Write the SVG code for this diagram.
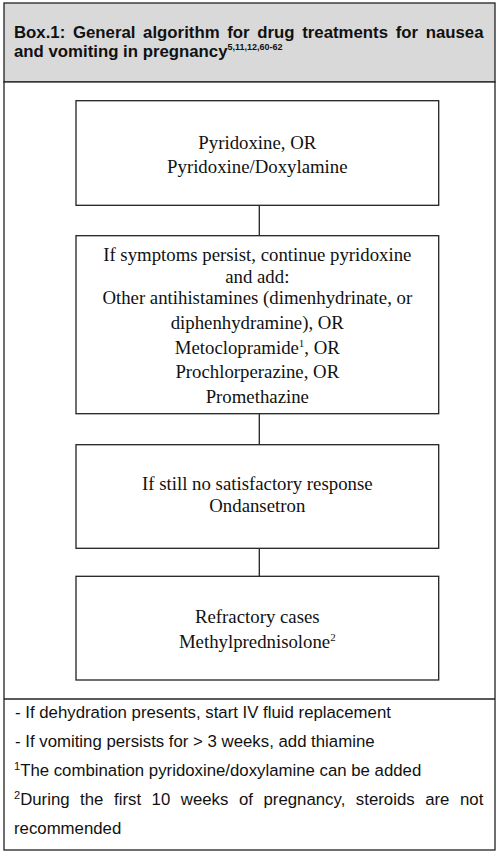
<svg xmlns="http://www.w3.org/2000/svg" width="500" height="857" viewBox="0 0 500 857">
<style>
.box{fill:#fff;stroke:#222;stroke-width:1.3}
.t{font-family:"Liberation Serif","Times New Roman",serif;font-size:18.8px;fill:#111;text-anchor:middle}
.h{font-family:"Liberation Sans",Arial,sans-serif;font-size:16.8px;font-weight:bold;fill:#111}
.f{font-family:"Liberation Sans",Arial,sans-serif;font-size:16.8px;fill:#111}
.c{stroke:#222;stroke-width:1.3;fill:none}
</style>
<rect x="0" y="0" width="500" height="857" fill="#fff"/>
<g id="frame">
<rect x="4" y="3" width="491" height="79" fill="#d9d9d9" stroke="#222" stroke-width="1.3"/>
<rect x="4" y="82" width="491" height="768" fill="#fff" stroke="#222" stroke-width="1.3"/>
<line x1="4" y1="699" x2="495" y2="699" stroke="#222" stroke-width="1.3"/>
</g>
<g id="title">
<text class="h" x="14" y="37.5" word-spacing="3">Box.1: General algorithm for drug treatments for nausea</text>
<text class="h" x="14" y="56.5">and vomiting in pregnancy<tspan font-size="9" dy="-6.5">5,11,12,60-62</tspan></text>
</g>
<g id="connectors">
<line class="c" x1="259.3" y1="205.3" x2="259.3" y2="235.7"/>
<line class="c" x1="259.3" y1="413.7" x2="259.3" y2="444.7"/>
<line class="c" x1="259.3" y1="548.3" x2="259.3" y2="576.3"/>
</g>
<g id="node1">
<rect class="box" x="76" y="100.7" width="362.7" height="104.6"/>
<text class="t" x="257.3" y="149">Pyridoxine, OR</text>
<text class="t" x="257.3" y="173">Pyridoxine/Doxylamine</text>
</g>
<g id="node2">
<rect class="box" x="76" y="235.7" width="362.7" height="178"/>
<text class="t" x="257.3" y="260.5">If symptoms persist, continue pyridoxine</text>
<text class="t" x="257.3" y="282.5">and add:</text>
<text class="t" x="257.3" y="304">Other antihistamines (dimenhydrinate, or</text>
<text class="t" x="257.3" y="329">diphenhydramine), OR</text>
<text class="t" x="257.3" y="354">Metoclopramide<tspan font-size="11" dy="-7">1</tspan><tspan dy="7">, OR</tspan></text>
<text class="t" x="257.3" y="378">Prochlorperazine, OR</text>
<text class="t" x="257.3" y="402.5">Promethazine</text>
</g>
<g id="node3">
<rect class="box" x="76" y="444.7" width="362.7" height="103.6"/>
<text class="t" x="257.3" y="490">If still no satisfactory response</text>
<text class="t" x="257.3" y="511.5">Ondansetron</text>
</g>
<g id="node4">
<rect class="box" x="76" y="576.3" width="362.7" height="103.7"/>
<text class="t" x="257.3" y="623">Refractory cases</text>
<text class="t" x="257.3" y="648">Methylprednisolone<tspan font-size="11" dy="-7">2</tspan></text>
</g>
<g id="footnotes">
<text class="f" x="15" y="718">- If dehydration presents, start IV fluid replacement</text>
<text class="f" x="15" y="747">- If vomiting persists for &gt; 3 weeks, add thiamine</text>
<text class="f" x="14" y="775.5"><tspan font-size="11" dy="-6">1</tspan><tspan dy="6">The combination pyridoxine/doxylamine can be added</tspan></text>
<text class="f" x="14" y="804.5" word-spacing="5.9"><tspan font-size="11" dy="-6">2</tspan><tspan dy="6">During the first 10 weeks of pregnancy, steroids are not</tspan></text>
<text class="f" x="14" y="834">recommended</text>
</g>
</svg>
